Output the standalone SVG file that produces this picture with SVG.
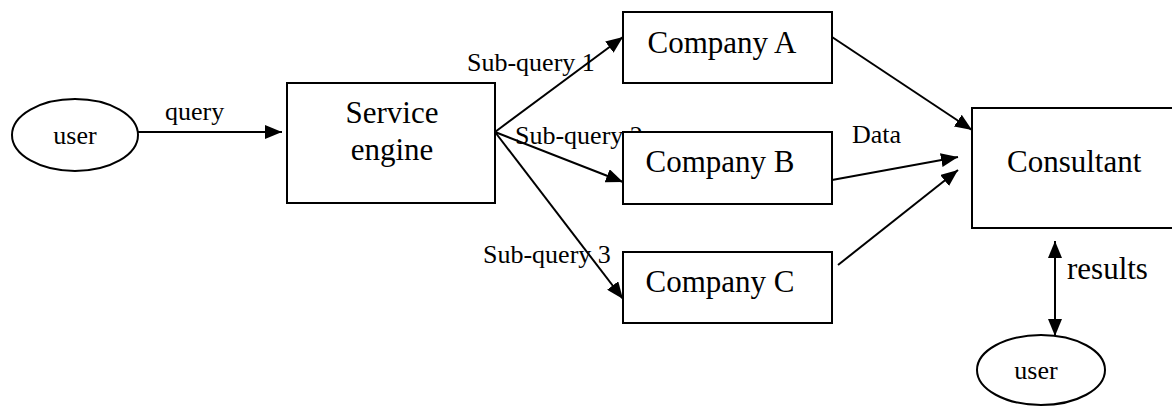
<svg xmlns="http://www.w3.org/2000/svg" width="1172" height="406" viewBox="0 0 1172 406">
<style>
.box{fill:#fff;stroke:#000;stroke-width:2}
.edge{fill:none;stroke:#000;stroke-width:2}
.big{font-family:"Liberation Serif","Times New Roman",serif;font-size:31px;fill:#000}
.sm{font-family:"Liberation Serif","Times New Roman",serif;font-size:26px;fill:#000}
</style>
<defs>
<marker id="ah" markerUnits="userSpaceOnUse" markerWidth="18" markerHeight="14" refX="17" refY="7" orient="auto-start-reverse">
<path d="M0,0 L17,7 L0,14 Z" fill="#000"/>
</marker>
</defs>
<rect width="1172" height="406" fill="#fff"/>
<g id="connectors">
<line class="edge" x1="137" y1="132" x2="282" y2="132" marker-end="url(#ah)"/>
<line class="edge" x1="495" y1="132" x2="623" y2="37" marker-end="url(#ah)"/>
<line class="edge" x1="495" y1="132" x2="623" y2="182" marker-end="url(#ah)"/>
<line class="edge" x1="495" y1="132" x2="623" y2="299" marker-end="url(#ah)"/>
<line class="edge" x1="832" y1="37" x2="972" y2="130" marker-end="url(#ah)"/>
<line class="edge" x1="832" y1="180" x2="958" y2="157" marker-end="url(#ah)"/>
<line class="edge" x1="838" y1="265" x2="958" y2="170" marker-end="url(#ah)"/>
<line class="edge" x1="1055" y1="241" x2="1055" y2="336" marker-start="url(#ah)" marker-end="url(#ah)"/>
<text class="sm" x="165" y="120">query</text>
<text class="sm" x="467" y="71">Sub-query 1</text>
<text class="sm" x="515" y="144">Sub-query 2</text>
<text class="sm" x="483" y="263">Sub-query 3</text>
<text class="sm" x="852" y="143">Data</text>
<text class="big" x="1067" y="279">results</text>
</g>
<g id="user1">
<ellipse class="box" cx="75" cy="135" rx="63" ry="36"/>
<text class="sm" x="75" y="144" text-anchor="middle">user</text>
</g>
<g id="service-engine">
<rect class="box" x="287" y="83" width="208" height="120"/>
<text class="big" x="392" y="123" text-anchor="middle">Service</text>
<text class="big" x="392" y="160" text-anchor="middle">engine</text>
</g>
<g id="company-a">
<rect class="box" x="623" y="12" width="209" height="71"/>
<text class="big" x="722" y="53" text-anchor="middle">Company A</text>
</g>
<g id="company-b">
<rect class="box" x="623" y="132" width="209" height="72"/>
<text class="big" x="720" y="172" text-anchor="middle">Company B</text>
</g>
<g id="company-c">
<rect class="box" x="623" y="252" width="209" height="71"/>
<text class="big" x="720" y="292" text-anchor="middle">Company C</text>
</g>
<g id="consultant">
<rect class="box" x="972" y="108" width="210" height="120"/>
<text class="big" x="1007" y="172">Consultant</text>
</g>
<g id="user2">
<ellipse class="box" cx="1041" cy="370" rx="64" ry="35"/>
<text class="sm" x="1036" y="379" text-anchor="middle">user</text>
</g>
</svg>
